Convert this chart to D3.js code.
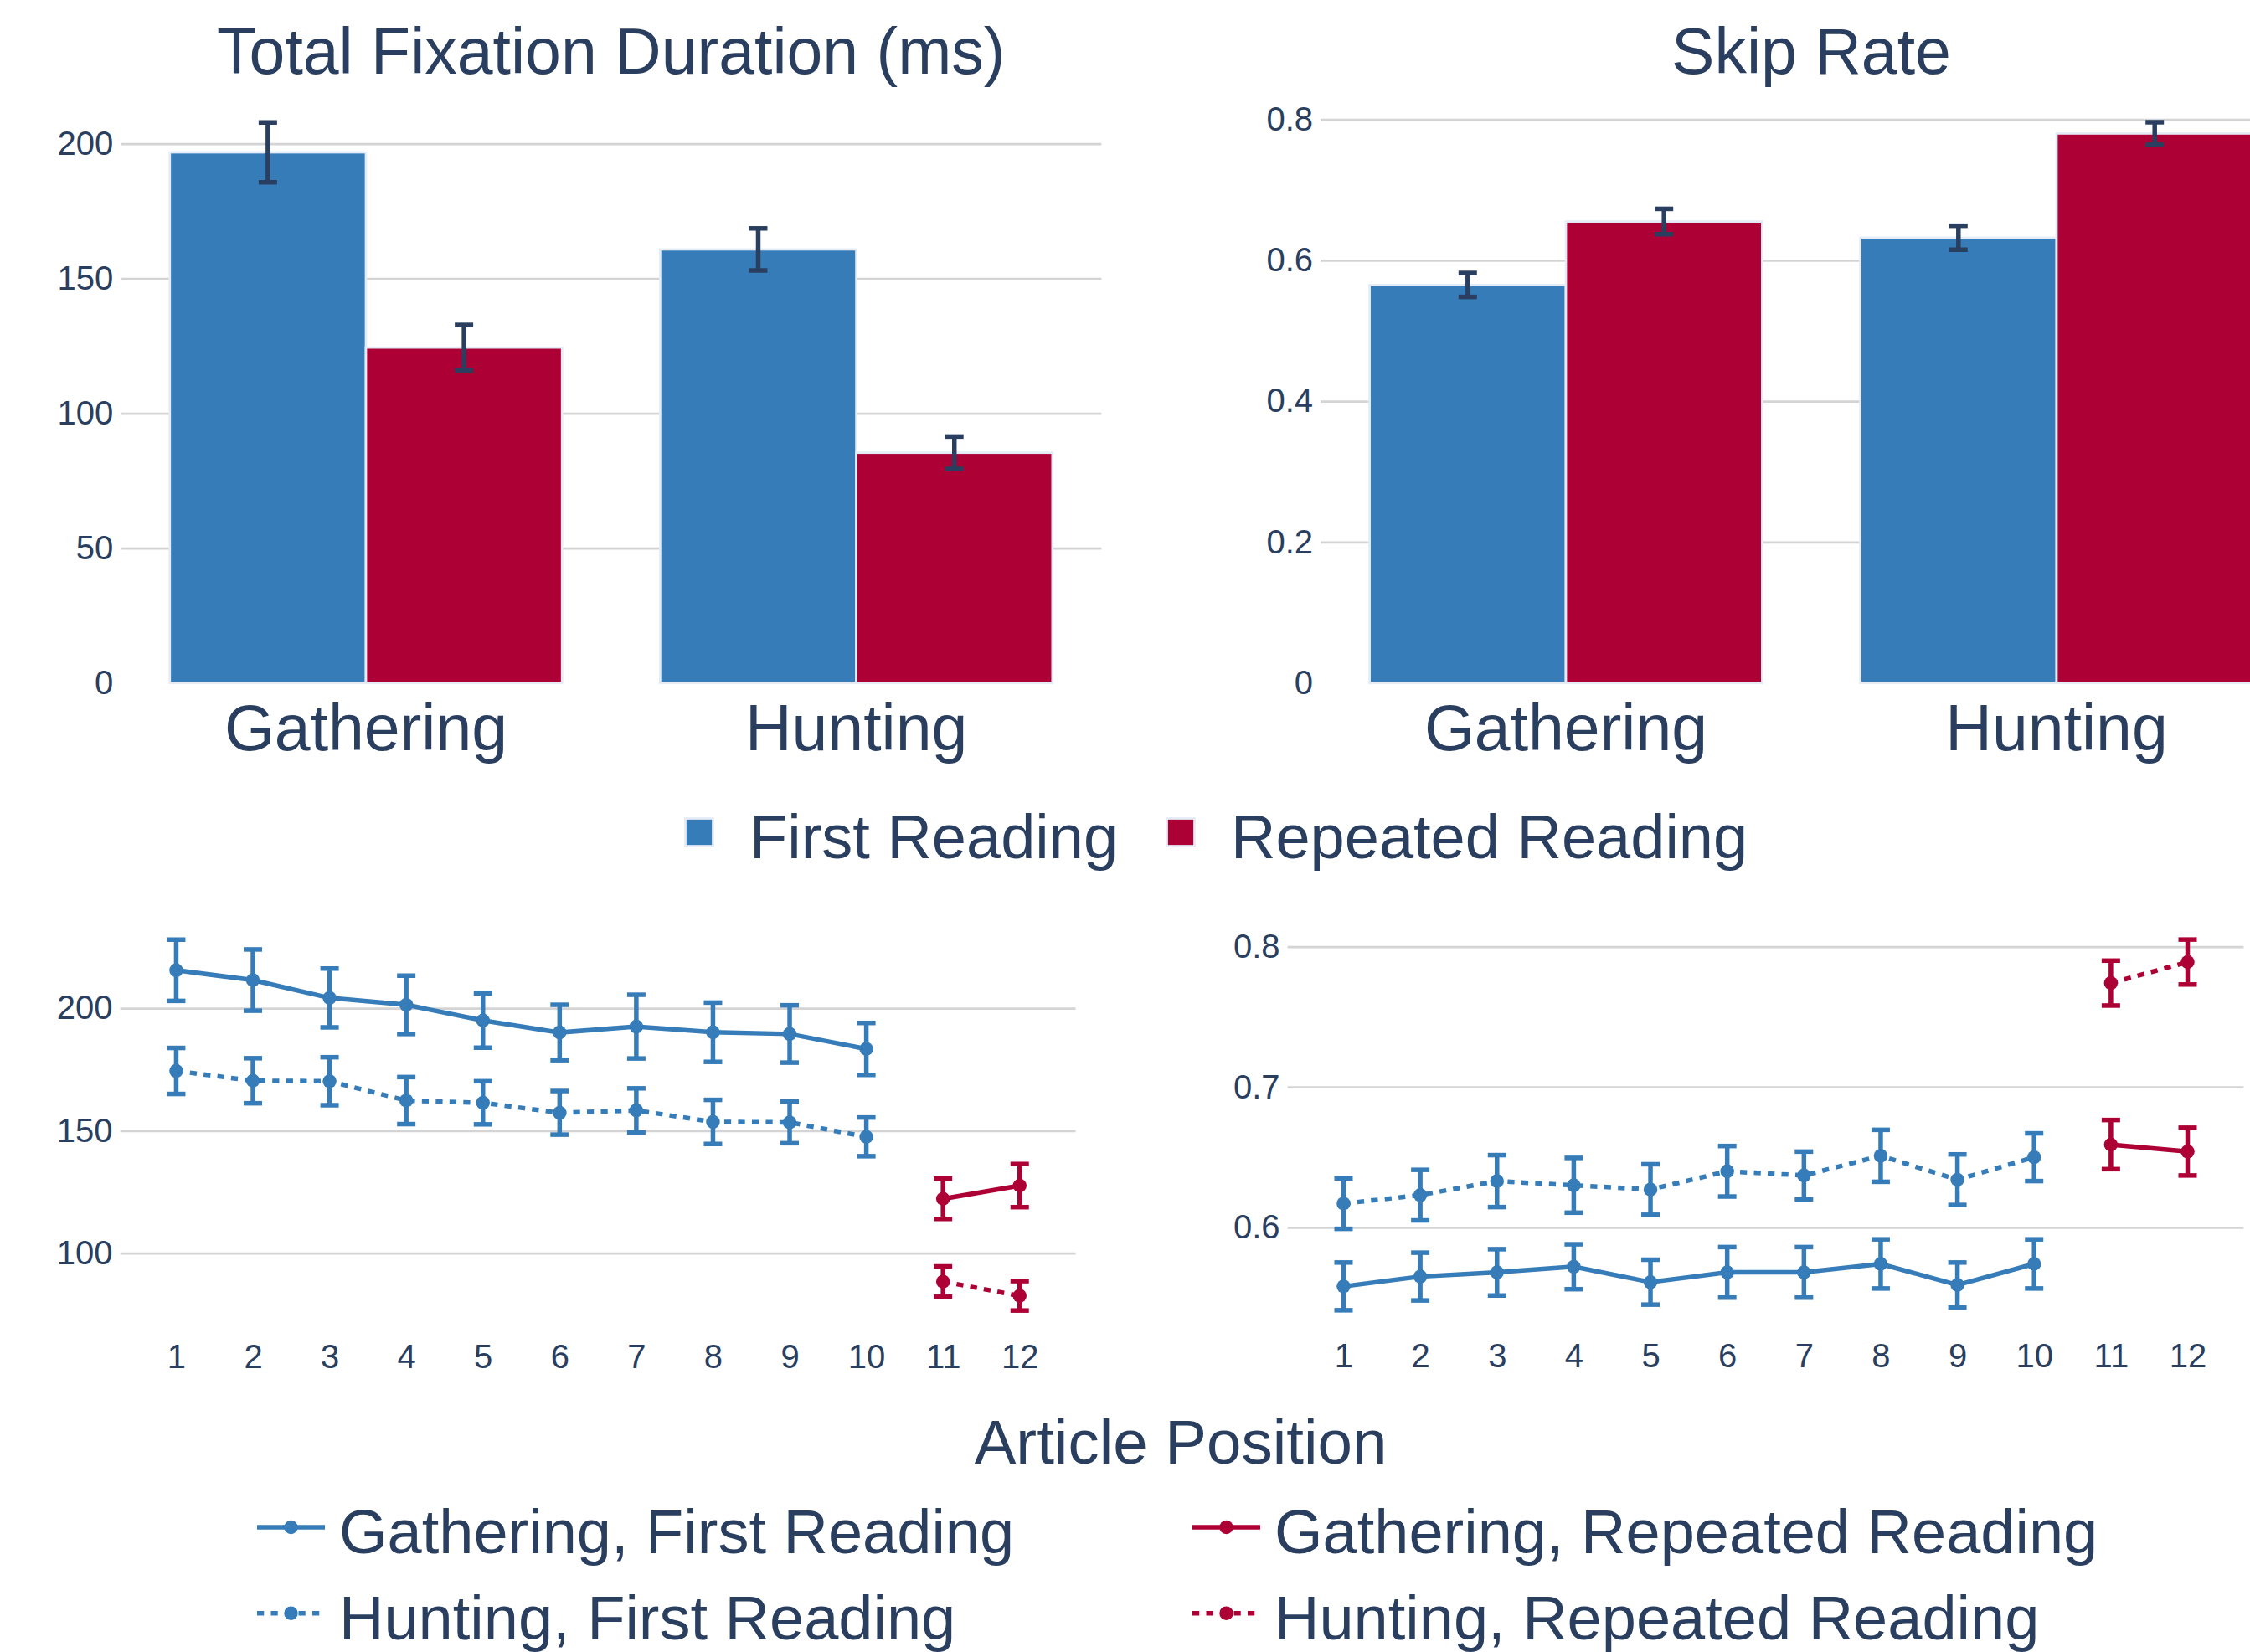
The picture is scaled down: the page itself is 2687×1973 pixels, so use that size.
<!DOCTYPE html>
<html>
<head>
<meta charset="utf-8">
<script src="https://cdn.jsdelivr.net/npm/d3@7"></script>
<style>
  body { margin: 0; background: #fff; overflow: hidden; }
  svg { display: block; font-family: "Liberation Sans", Arial, sans-serif; }
</style>
</head>
<body>
<svg id="chart" width="2687" height="1973"></svg>
<script>
// values
const groups = ["Gathering", "Hunting"];
const readings = ["First Reading", "Repeated Reading"];

const tfdFirst = [196.8, 160.8];
const tfdFirstErr = [11.1, 7.8];
const tfdRepeated = [124.4, 85.4];
const tfdRepeatedErr = [8.4, 6.0];

const skipFirst = [0.565, 0.632];
const skipFirstErr = [0.017, 0.017];
const skipRepeated = [0.655, 0.780];
const skipRepeatedErr = [0.018, 0.016];

const positionsFirst = [1, 2, 3, 4, 5, 6, 7, 8, 9, 10];
const positionsRepeated = [11, 12];
const positionTicks = [1, 2, 3, 4, 5, 6, 7, 8, 9, 10, 11, 12];

const tfdGatherFirst = [215.5, 211.5, 204.2, 201.4, 195.0, 190.1, 192.5, 190.2, 189.5, 183.4];
const tfdGatherFirstErr = [12.5, 12.5, 12.0, 11.9, 11.1, 11.3, 13.0, 12.1, 11.7, 10.6];
const tfdHuntFirst = [174.4, 170.4, 170.2, 162.3, 161.4, 157.3, 158.3, 153.6, 153.4, 147.5];
const tfdHuntFirstErr = [9.4, 9.2, 9.8, 9.6, 8.8, 8.9, 9.0, 9.0, 8.5, 7.9];
const tfdGatherRep = [122.2, 127.6];
const tfdGatherRepErr = [8.2, 8.8];
const tfdHuntRep = [88.4, 82.6];
const tfdHuntRepErr = [6.2, 6.0];

const skipGatherFirst = [0.558, 0.565, 0.568, 0.572, 0.561, 0.568, 0.568, 0.574, 0.559, 0.574];
const skipGatherFirstErr = [0.017, 0.017, 0.0165, 0.016, 0.016, 0.018, 0.018, 0.0175, 0.016, 0.0175];
const skipHuntFirst = [0.617, 0.623, 0.633, 0.630, 0.627, 0.640, 0.637, 0.651, 0.634, 0.650];
const skipHuntFirstErr = [0.018, 0.018, 0.0185, 0.0195, 0.018, 0.018, 0.017, 0.0185, 0.018, 0.017];
const skipGatherRep = [0.659, 0.654];
const skipGatherRepErr = [0.0175, 0.017];
const skipHuntRep = [0.774, 0.789];
const skipHuntRepErr = [0.016, 0.016];

const TEXT = "#2a3f5f";
const GRID = "#d4d4d4";
const BLUE = "#367cb9";
const RED = "#ad0034";
const colorOf = {"First Reading": BLUE, "Repeated Reading": RED};

const svg = d3.select("#chart");

function styleAxisText(axisG, size) {
  axisG.attr("font-family", null).attr("font-size", null);
  axisG.selectAll("text").attr("fill", TEXT).attr("font-size", size);
}

function drawBars(p) {
  const x = d3.scaleBand().domain(groups).range([p.left, p.right]).paddingInner(0.2).paddingOuter(0.1);
  const xs = d3.scaleBand().domain(readings).range([0, x.bandwidth()]);
  const y = d3.scaleLinear().domain([0, p.yMax]).range([p.bottom, p.top]);
  const g = svg.append("g");

  const yAxis = g.append("g")
    .attr("transform", `translate(${p.left},0)`)
    .call(d3.axisLeft(y).tickValues(p.ticks).tickFormat(d3.format(""))
      .tickSizeInner(-(p.right - p.left)).tickSizeOuter(0).tickPadding(9));
  yAxis.select(".domain").remove();
  yAxis.selectAll("line").attr("stroke", GRID).attr("stroke-width", 2.75);
  yAxis.selectAll(".tick").filter(d => d === 0).select("line").remove();
  styleAxisText(yAxis, 40);

  const rows = groups.flatMap((grp, i) => [
    {grp, reading: readings[0], v: p.first[i], e: p.firstErr[i]},
    {grp, reading: readings[1], v: p.repeated[i], e: p.repeatedErr[i]}
  ]);

  g.selectAll("rect.bar")
    .data(rows)
    .enter()
    .append("rect")
    .attr("class", "bar")
    .attr("x", d => x(d.grp) + xs(d.reading))
    .attr("width", xs.bandwidth())
    .attr("y", d => y(d.v))
    .attr("height", d => p.bottom - y(d.v))
    .attr("fill", d => colorOf[d.reading])
    .attr("stroke", "#e5ecf6")
    .attr("stroke-width", 2.75);

  const eb = g.selectAll("g.err").data(rows).enter().append("g")
    .attr("stroke", TEXT).attr("stroke-width", 5.5);
  const cx = d => x(d.grp) + xs(d.reading) + xs.bandwidth() / 2;
  eb.append("line").attr("x1", cx).attr("x2", cx)
    .attr("y1", d => y(d.v - d.e)).attr("y2", d => y(d.v + d.e));
  eb.append("line").attr("x1", d => cx(d) - 11).attr("x2", d => cx(d) + 11)
    .attr("y1", d => y(d.v + d.e)).attr("y2", d => y(d.v + d.e));
  eb.append("line").attr("x1", d => cx(d) - 11).attr("x2", d => cx(d) + 11)
    .attr("y1", d => y(d.v - d.e)).attr("y2", d => y(d.v - d.e));

  g.selectAll("text.cat")
    .data(groups)
    .enter()
    .append("text")
    .attr("class", "cat")
    .attr("x", d => x(d) + x.bandwidth() / 2)
    .attr("y", 896)
    .attr("text-anchor", "middle")
    .attr("fill", TEXT)
    .attr("font-size", 77)
    .text(d => d);

  g.append("text")
    .attr("x", (p.left + p.right) / 2)
    .attr("y", 88)
    .attr("text-anchor", "middle")
    .attr("fill", TEXT)
    .attr("font-size", 77)
    .text(p.title);
}

function drawLines(p) {
  const x = d3.scaleLinear().domain([0.27, 12.73]).range([p.left, p.right]);
  const y = d3.scaleLinear().domain(p.yDomain).range([p.bottom, p.top]);
  const g = svg.append("g");

  const yAxis = g.append("g")
    .attr("transform", `translate(${p.left},0)`)
    .call(d3.axisLeft(y).tickValues(p.ticks).tickFormat(d3.format(""))
      .tickSizeInner(-(p.right - p.left)).tickSizeOuter(0).tickPadding(9));
  yAxis.select(".domain").remove();
  yAxis.selectAll("line").attr("stroke", GRID).attr("stroke-width", 2.75);
  styleAxisText(yAxis, 40);

  const xAxis = g.append("g")
    .attr("transform", `translate(0,${p.bottom})`)
    .call(d3.axisBottom(x).tickValues(positionTicks).tickFormat(d3.format("d"))
      .tickSize(0).tickPadding(18));
  xAxis.select(".domain").remove();
  styleAxisText(xAxis, 40);

  p.series.forEach(s => {
    const pts = s.xs.map((xv, i) => ({x: xv, v: s.ys[i], e: s.errs[i]}));
    const sg = g.append("g");

    const eb = sg.selectAll("g.err").data(pts).enter().append("g")
      .attr("stroke", s.color).attr("stroke-width", 5.5);
    eb.append("line").attr("x1", d => x(d.x)).attr("x2", d => x(d.x))
      .attr("y1", d => y(d.v - d.e)).attr("y2", d => y(d.v + d.e));
    eb.append("line").attr("x1", d => x(d.x) - 11).attr("x2", d => x(d.x) + 11)
      .attr("y1", d => y(d.v + d.e)).attr("y2", d => y(d.v + d.e));
    eb.append("line").attr("x1", d => x(d.x) - 11).attr("x2", d => x(d.x) + 11)
      .attr("y1", d => y(d.v - d.e)).attr("y2", d => y(d.v - d.e));

    sg.append("path")
      .datum(pts)
      .attr("fill", "none")
      .attr("stroke", s.color)
      .attr("stroke-width", 5.5)
      .attr("stroke-dasharray", s.dot ? "8.25,8.25" : null)
      .attr("d", d3.line().x(d => x(d.x)).y(d => y(d.v)));

    sg.selectAll("circle")
      .data(pts)
      .enter()
      .append("circle")
      .attr("cx", d => x(d.x))
      .attr("cy", d => y(d.v))
      .attr("r", 8.25)
      .attr("fill", s.color);
  });
}

drawBars({
  left: 144.2, right: 1315.4, top: 115, bottom: 815.7, yMax: 217.6,
  ticks: [0, 50, 100, 150, 200],
  first: tfdFirst, firstErr: tfdFirstErr, repeated: tfdRepeated, repeatedErr: tfdRepeatedErr,
  title: "Total Fixation Duration (ms)"
});

drawBars({
  left: 1577, right: 2749, top: 115, bottom: 815.7, yMax: 0.8328,
  ticks: [0, 0.2, 0.4, 0.6, 0.8],
  first: skipFirst, firstErr: skipFirstErr, repeated: skipRepeated, repeatedErr: skipRepeatedErr,
  title: "Skip Rate"
});

drawLines({
  left: 143.6, right: 1284.6, top: 1100, bottom: 1587.4, yDomain: [69, 235.6],
  ticks: [100, 150, 200],
  series: [
    {xs: positionsFirst, ys: tfdGatherFirst, errs: tfdGatherFirstErr, color: BLUE, dot: false},
    {xs: positionsFirst, ys: tfdHuntFirst, errs: tfdHuntFirstErr, color: BLUE, dot: true},
    {xs: positionsRepeated, ys: tfdGatherRep, errs: tfdGatherRepErr, color: RED, dot: false},
    {xs: positionsRepeated, ys: tfdHuntRep, errs: tfdHuntRepErr, color: RED, dot: true}
  ]
});

drawLines({
  left: 1537.6, right: 2679.4, top: 1100, bottom: 1587, yDomain: [0.5278, 0.8182],
  ticks: [0.6, 0.7, 0.8],
  series: [
    {xs: positionsFirst, ys: skipGatherFirst, errs: skipGatherFirstErr, color: BLUE, dot: false},
    {xs: positionsFirst, ys: skipHuntFirst, errs: skipHuntFirstErr, color: BLUE, dot: true},
    {xs: positionsRepeated, ys: skipGatherRep, errs: skipGatherRepErr, color: RED, dot: false},
    {xs: positionsRepeated, ys: skipHuntRep, errs: skipHuntRepErr, color: RED, dot: true}
  ]
});

// bar legend
const barLegend = [
  {label: readings[0], x: 835, color: BLUE},
  {label: readings[1], x: 1410, color: RED}
];
const bl = svg.append("g").selectAll("g").data(barLegend).enter().append("g");
bl.append("rect")
  .attr("x", d => d.x - 16.5).attr("y", 994 - 16.5)
  .attr("width", 33).attr("height", 33)
  .attr("fill", d => d.color).attr("stroke", "#e5ecf6").attr("stroke-width", 2.75);
bl.append("text")
  .attr("x", d => d.x + 60).attr("y", 1025)
  .attr("fill", TEXT).attr("font-size", 74)
  .text(d => d.label);

// axis title shared by the lower panels
svg.append("text")
  .attr("x", 1410).attr("y", 1748)
  .attr("text-anchor", "middle")
  .attr("fill", TEXT).attr("font-size", 74.5)
  .text("Article Position");

// line legend
const lineLegend = [
  {label: "Gathering, First Reading", x: 307, y: 1824, color: BLUE, dot: false},
  {label: "Gathering, Repeated Reading", x: 1424, y: 1824, color: RED, dot: false},
  {label: "Hunting, First Reading", x: 307, y: 1926.7, color: BLUE, dot: true},
  {label: "Hunting, Repeated Reading", x: 1424, y: 1926.7, color: RED, dot: true}
];
const ll = svg.append("g").selectAll("g").data(lineLegend).enter().append("g");
ll.append("line")
  .attr("x1", d => d.x).attr("x2", d => d.x + 81)
  .attr("y1", d => d.y).attr("y2", d => d.y)
  .attr("stroke", d => d.color).attr("stroke-width", 5.5)
  .attr("stroke-dasharray", d => d.dot ? "8.25,8.25" : null);
ll.append("circle")
  .attr("cx", d => d.x + 40.5).attr("cy", d => d.y).attr("r", 8.25)
  .attr("fill", d => d.color);
ll.append("text")
  .attr("x", d => d.x + 98).attr("y", d => d.y + 31)
  .attr("fill", TEXT).attr("font-size", 74)
  .text(d => d.label);
</script>
</body>
</html>
